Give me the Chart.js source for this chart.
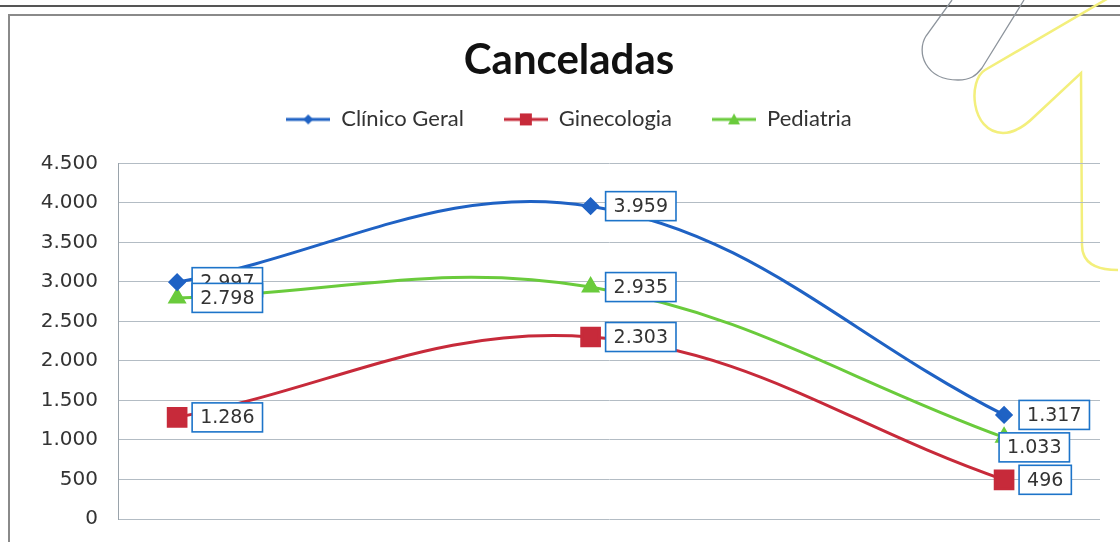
<!DOCTYPE html>
<html>
<head>
<meta charset="utf-8">
<script src="https://cdn.jsdelivr.net/npm/chart.js@4/dist/chart.umd.min.js"></script>
<style>
  html, body { margin: 0; padding: 0; background: #fff; }
  .page { position: relative; width: 1120px; height: 542px; overflow: hidden; }
  .topline { position: absolute; left: 0; right: 0; top: 5px; height: 0; border-top: 2px solid #555; }
  .frame { position: absolute; left: 8px; top: 14px; width: 1200px; height: 600px; border: 2px solid #8a8a8a; }
  .deco { position: absolute; left: 0; top: 0; }
  canvas { position: absolute; left: 0; top: 0; }
</style>
</head>
<body>
<div class="page">
  <div class="topline"></div>
  <div class="frame"></div>
  <svg class="deco" width="1120" height="542">
    <path d="M 952 0 L 926 36 C 916 52 925 80 958 80 C 970 80 976 76 982 68 L 1024 0" fill="none" stroke="#8d949c" stroke-width="1.3"/>
    <path d="M 1112 -4 L 985 70 C 968 80 970 132 1003 133 C 1015 133 1025 126 1035 116 L 1081 73 L 1082 245 C 1082 262 1095 270 1118 270" fill="none" stroke="#f3ef7c" stroke-width="2.5"/>
  </svg>
  <canvas id="myChart" width="1120" height="542"></canvas>
</div>
<script>
// data
const categories = ["1", "2", "3"];
const clinicoGeral = [2997, 3959, 1317];
const ginecologia = [1286, 2303, 496];
const pediatria = [2798, 2935, 1033];
const yTicks = [0, 500, 1000, 1500, 2000, 2500, 3000, 3500, 4000, 4500];

const blue = "#1f62c4";
const red = "#c72a3a";
const green = "#6acb3c";

function fmt(v) {
  return String(v).replace(/\B(?=(\d{3})+(?!\d))/g, ".");
}

function toPoints(values) {
  return categories.map((c, i) => ({ x: i, y: values[i] }));
}

// small canvas used as legend symbol (line + marker)
function legendIcon(color, shape) {
  const c = document.createElement("canvas");
  c.width = 44;
  c.height = 20;
  const ctx = c.getContext("2d");
  ctx.strokeStyle = color;
  ctx.fillStyle = color;
  ctx.lineWidth = 3;
  ctx.beginPath();
  ctx.moveTo(0, 10);
  ctx.lineTo(44, 10);
  ctx.stroke();
  ctx.beginPath();
  if (shape === "diamond") {
    ctx.moveTo(22, 5); ctx.lineTo(27, 10); ctx.lineTo(22, 15); ctx.lineTo(17, 10);
  } else if (shape === "square") {
    ctx.rect(16, 4, 12, 12);
  } else {
    ctx.moveTo(22, 4); ctx.lineTo(28, 15); ctx.lineTo(16, 15);
  }
  ctx.closePath();
  ctx.fill();
  return c;
}

const icons = [legendIcon(blue, "diamond"), legendIcon(red, "square"), legendIcon(green, "triangle")];

// boxed value labels like excel
const boxLabels = {
  id: "boxLabels",
  afterDatasetsDraw(chart, args, opts) {
    const ctx = chart.ctx;
    ctx.save();
    ctx.font = opts.font;
    ctx.textAlign = "center";
    ctx.textBaseline = "middle";
    chart.data.datasets.forEach((ds, di) => {
      const meta = chart.getDatasetMeta(di);
      meta.data.forEach((pt, i) => {
        const text = fmt(ds.data[i].y);
        const w = ctx.measureText(text).width + 16;
        const h = 29;
        const nudge = opts.nudge[di + "-" + i] || { x: 0, y: 0 };
        const left = pt.x + 15 + nudge.x;
        const top = pt.y - h / 2 + nudge.y;
        ctx.fillStyle = "#fff";
        ctx.fillRect(left, top, w, h);
        ctx.strokeStyle = "#1d74c9";
        ctx.lineWidth = 1.6;
        ctx.strokeRect(left, top, w, h);
        ctx.fillStyle = "#333";
        ctx.fillText(text, left + w / 2, top + h / 2 + 1);
      });
    });
    ctx.restore();
  },
};

// extra room under the legend
const legendGap = {
  id: "legendGap",
  beforeInit(chart) {
    const fit = chart.legend.fit;
    chart.legend.fit = function () {
      fit.bind(chart.legend)();
      this.height += 23;
    };
  },
};

const data = {
  datasets: [
    {
      label: "Clínico Geral",
      data: toPoints(clinicoGeral),
      borderColor: blue,
      backgroundColor: blue,
      borderWidth: 3,
      pointStyle: "rectRot",
      pointRadius: 7,
      tension: 0.38,
    },
    {
      label: "Ginecologia",
      data: toPoints(ginecologia),
      borderColor: red,
      backgroundColor: red,
      borderWidth: 3,
      pointStyle: "rect",
      pointRadius: 12.5,
      tension: 0.38,
    },
    {
      label: "Pediatria",
      data: toPoints(pediatria),
      borderColor: green,
      backgroundColor: green,
      borderWidth: 3,
      pointStyle: "triangle",
      pointRadius: 8,
      tension: 0.38,
    },
  ],
};

const config = {
  type: "line",
  data: data,
  plugins: [boxLabels, legendGap],
  options: {
    responsive: false,
    animation: false,
    layout: {
      padding: { left: 38, right: 20, top: 0, bottom: 0 },
    },
    scales: {
      x: {
        type: "linear",
        display: false,
        min: -0.143,
        max: 2.232,
      },
      y: {
        min: 0,
        max: 4500,
        afterBuildTicks(scale) {
          scale.ticks = yTicks.map((v) => ({ value: v }));
        },
        afterFit(scale) {
          scale.width = 80;
        },
        grid: {
          color: "#b3bcc4",
          lineWidth: 1,
          tickLength: 9,
          tickColor: "transparent",
        },
        border: {
          color: "#9aa3ab",
        },
        ticks: {
          padding: 11,
          color: "#333",
          font: { family: "DejaVu Sans", size: 20 },
          callback: (v) => fmt(v),
        },
      },
    },
    plugins: {
      title: {
        display: true,
        text: "Canceladas",
        color: "#111",
        font: { family: "Lato", size: 42, weight: "bold" },
        padding: { top: 35, bottom: -17 },
      },
      legend: {
        position: "top",
        labels: {
          usePointStyle: true,
          pointStyleWidth: 44,
          padding: 40,
          color: "#333",
          font: { family: "Lato", size: 22 },
          generateLabels(chart) {
            return chart.data.datasets.map((ds, i) => ({
              text: ds.label,
              pointStyle: icons[i],
              datasetIndex: i,
              fontColor: "#333",
              lineWidth: 0,
              strokeStyle: "transparent",
              fillStyle: "transparent",
            }));
          },
        },
      },
      tooltip: { enabled: false },
      boxLabels: {
        font: "19px 'DejaVu Sans'",
        nudge: { "2-2": { x: -20, y: 10 } },
      },
    },
  },
};

const myChart = new Chart(document.getElementById("myChart"), config);
</script>
</body>
</html>
